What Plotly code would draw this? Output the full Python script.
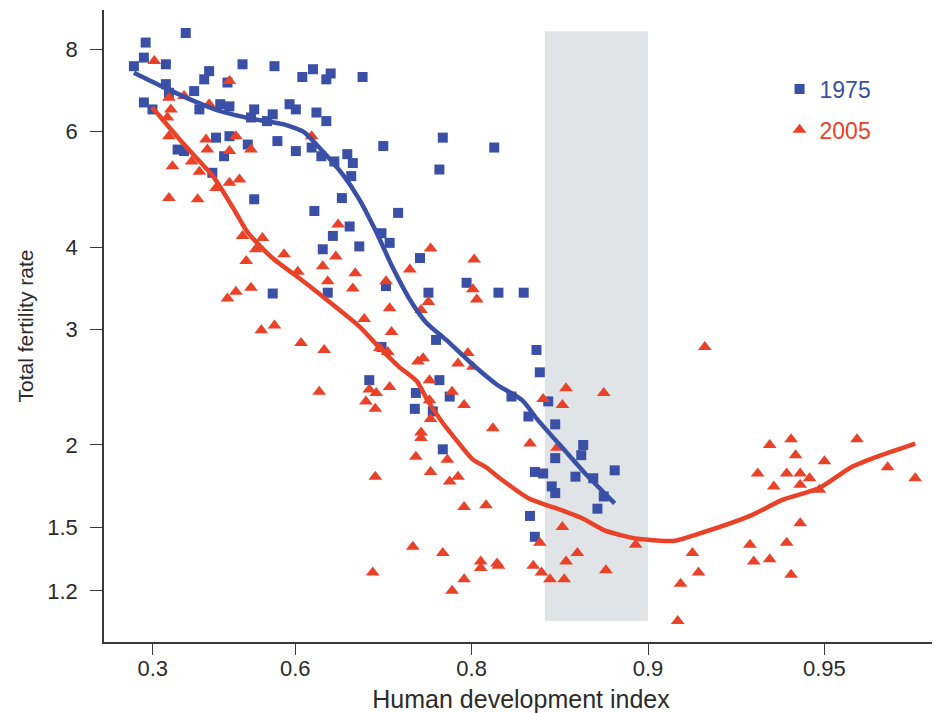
import plotly.graph_objects as go
import math

# ---------------- data ----------------
hdi_1975 = [0.385, 0.280, 0.275, 0.246, 0.335, 0.508, 0.566, 0.611, 0.439, 0.428,
            0.478, 0.335, 0.343, 0.405, 0.275, 0.299, 0.417, 0.463, 0.482, 0.530,
            0.563, 0.591, 0.601, 0.524, 0.553, 0.454, 0.482, 0.518, 0.571, 0.601,
            0.365, 0.381, 0.471, 0.446, 0.530, 0.563,
            0.627, 0.652, 0.646, 0.693, 0.632, 0.646, 0.625, 0.639, 0.674, 0.681,
            0.657, 0.717, 0.776, 0.817, 0.773, 0.679, 0.667, 0.629, 0.733,
            0.677, 0.655, 0.715, 0.724, 0.641, 0.689, 0.755, 0.796, 0.763, 0.820,
            0.837, 0.648, 0.720, 0.770, 0.715, 0.701, 0.773, 0.751, 0.782, 0.750,
            0.767, 0.776,
            0.845, 0.847, 0.829, 0.852, 0.840, 0.856, 0.871, 0.870, 0.856, 0.844,
            0.849, 0.867, 0.876, 0.886, 0.854, 0.856, 0.881, 0.878, 0.841, 0.844]
tfr_1975 = [8.47, 8.19, 7.77, 7.54, 7.59, 7.59, 7.54, 7.26, 7.41, 7.20,
            7.12, 7.08, 6.87, 6.91, 6.64, 6.48, 6.48, 6.60, 6.55, 6.48,
            6.37, 6.60, 6.48, 6.30, 6.22, 5.87, 5.90, 5.73, 5.80, 5.60,
            5.63, 5.60, 5.50, 5.19, 4.73, 3.40,
            7.46, 7.35, 7.20, 7.26, 6.41, 6.22, 5.67, 5.50, 5.54, 5.37,
            5.40, 5.70, 5.87, 5.67, 5.25, 5.13, 4.75, 4.54, 4.51,
            4.30, 4.16, 4.20, 4.06, 3.97, 4.01, 3.85, 3.53, 3.41, 3.41,
            3.41, 3.41, 3.49, 2.89, 2.82, 2.51, 2.51, 2.40, 2.37, 2.27,
            2.25, 1.97,
            2.79, 2.58, 2.37, 2.33, 2.21, 2.15, 2.00, 1.93, 1.91, 1.82,
            1.81, 1.79, 1.78, 1.83, 1.73, 1.69, 1.67, 1.60, 1.56, 1.45]

hdi_2005 = [0.304, 0.482, 0.343, 0.381, 0.439, 0.348, 0.339, 0.343, 0.432, 0.495,
            0.435, 0.482, 0.524, 0.352, 0.399, 0.417, 0.454, 0.482, 0.502, 0.343,
            0.413, 0.508, 0.545, 0.533, 0.582, 0.515, 0.604, 0.524, 0.495, 0.478,
            0.566, 0.543, 0.609, 0.625, 0.662, 0.659, 0.765, 0.802, 0.641, 0.684,
            0.745, 0.648, 0.681, 0.720, 0.801, 0.804, 0.763, 0.724, 0.756, 0.695,
            0.726, 0.643, 0.722, 0.713, 0.758, 0.753, 0.797, 0.789, 0.801, 0.764,
            0.724, 0.636, 0.701, 0.709, 0.784, 0.697, 0.708, 0.764, 0.794, 0.765,
            0.816, 0.756, 0.756, 0.751, 0.780, 0.708, 0.765, 0.782, 0.789, 0.794,
            0.811, 0.748, 0.776, 0.807, 0.807, 0.819, 0.705, 0.794, 0.784, 0.862,
            0.881, 0.849, 0.860, 0.841, 0.857, 0.920, 0.860, 0.847, 0.868, 0.895,
            0.820, 0.843, 0.862, 0.848, 0.853, 0.861, 0.882, 0.916, 0.918, 0.912,
            0.911, 0.943, 0.938, 0.956, 0.944, 0.950, 0.935, 0.942, 0.945, 0.947,
            0.939, 0.945, 0.949, 0.961, 0.965, 0.945, 0.933, 0.942, 0.934, 0.938,
            0.943]
tfr_2005 = [7.68, 7.16, 6.75, 6.79, 6.60, 6.48, 6.30, 5.90, 5.83, 5.90,
            5.63, 5.60, 5.63, 5.31, 5.40, 5.21, 4.92, 5.01, 5.07, 4.75,
            4.73, 4.16, 4.13, 3.97, 3.90, 3.81, 3.67, 3.47, 3.42, 3.34,
            3.04, 2.99, 2.86, 5.90, 4.33, 3.87, 3.98, 3.83, 3.74, 3.65,
            3.70, 3.55, 3.46, 3.55, 3.45, 3.33, 3.30, 3.23, 3.21, 3.11,
            2.97, 2.79, 2.77, 2.81, 2.71, 2.68, 2.76, 2.66, 2.63, 2.51,
            2.45, 2.41, 2.43, 2.40, 2.41, 2.33, 2.27, 2.34, 2.30, 2.19,
            2.12, 2.09, 2.05, 1.92, 1.90, 1.79, 1.82, 1.76, 1.79, 1.61,
            1.62, 1.40, 1.37, 1.33, 1.30, 1.32, 1.28, 1.25, 1.20, 2.44,
            2.40, 2.35, 2.30, 2.01, 1.98, 2.82, 1.50, 1.42, 1.37, 1.41,
            1.31, 1.31, 1.33, 1.28, 1.25, 1.25, 1.29, 1.37, 1.28, 1.23,
            1.08, 2.04, 2.00, 2.04, 1.93, 1.89, 1.81, 1.81, 1.81, 1.78,
            1.73, 1.74, 1.71, 1.85, 1.78, 1.52, 1.41, 1.42, 1.33, 1.34,
            1.27]

trend_hdi_1975 = [0.246, 0.330, 0.405, 0.463, 0.530, 0.582, 0.614, 0.636, 0.668, 0.689,
                  0.709, 0.727, 0.745, 0.761, 0.779, 0.799, 0.819, 0.836, 0.846, 0.860,
                  0.872, 0.886]
trend_tfr_1975 = [7.37, 7.00, 6.67, 6.44, 6.26, 6.15, 5.98, 5.67, 5.16, 4.73,
                  4.22, 3.73, 3.33, 3.07, 2.89, 2.67, 2.47, 2.34, 2.18, 1.98,
                  1.81, 1.63]

trend_hdi_2005 = [0.298, 0.381, 0.450, 0.496, 0.517, 0.561, 0.614, 0.646, 0.689, 0.713,
                  0.734, 0.752, 0.762, 0.776, 0.790, 0.801, 0.811, 0.821, 0.840, 0.860,
                  0.870, 0.882, 0.896, 0.910, 0.917, 0.933, 0.941, 0.949, 0.955, 0.960,
                  0.965]
trend_tfr_2005 = [6.53, 5.73, 5.10, 4.50, 4.22, 3.86, 3.54, 3.33, 3.03, 2.81,
                  2.63, 2.50, 2.34, 2.16, 2.01, 1.90, 1.85, 1.78, 1.66, 1.59,
                  1.55, 1.48, 1.44, 1.43, 1.46, 1.56, 1.65, 1.72, 1.85, 1.93,
                  2.01]

band_hdi = [0.85, 0.90]
band_tfr = [1.08, 8.52]

x_tick_hdi = [0.3, 0.6, 0.8, 0.9, 0.95]
x_tick_text = ["0.3", "0.6", "0.8", "0.9", "0.95"]
y_tick_vals = [1.2, 1.5, 2, 3, 4, 6, 8]
y_tick_text = ["1.2", "1.5", "2", "3", "4", "6", "8"]

x_range_hdi = [0.152, 0.968]
y_range_tfr = [1.003, 9.18]

# ---------------- styling ----------------
BLUE = "#3950a6"
RED = "#ea4129"
BAND = "#e1e4e6"
AXIS = "#3a3a3a"
FONT = "Liberation Sans, Arial, sans-serif"


def gap(values):
    # the HDI axis is a log scale of the shortfall (1 - HDI), reversed
    return [1 - v for v in values]


fig = go.Figure()

fig.add_trace(go.Scatter(
    x=gap(hdi_1975), y=tfr_1975, mode="markers",
    name="<span style='color:%s'>1975</span>" % BLUE,
    legendgroup="a",
    marker=dict(symbol="square", size=10, color=BLUE, line=dict(width=0)),
))
fig.add_trace(go.Scatter(
    x=gap(hdi_2005), y=tfr_2005, mode="markers",
    name="<span style='color:%s'>2005</span>" % RED,
    legendgroup="b",
    marker=dict(symbol="triangle-up", size=12, color=RED, line=dict(width=0)),
))
fig.add_trace(go.Scatter(
    x=gap(trend_hdi_1975), y=trend_tfr_1975, mode="lines", showlegend=False,
    line=dict(color=BLUE, width=4.5, shape="spline", smoothing=0.6),
))
fig.add_trace(go.Scatter(
    x=gap(trend_hdi_2005), y=trend_tfr_2005, mode="lines", showlegend=False,
    line=dict(color=RED, width=4.5, shape="spline", smoothing=0.6),
))

fig.add_shape(
    type="rect", xref="x", yref="y", layer="below",
    x0=1 - band_hdi[0], x1=1 - band_hdi[1], y0=band_tfr[0], y1=band_tfr[1],
    fillcolor=BAND, line=dict(width=0),
)

fig.update_layout(
    width=932, height=705,
    margin=dict(l=96, r=2, t=2, b=71),
    paper_bgcolor="white", plot_bgcolor="white",
    font=dict(family=FONT, color="#2b2b2b"),
    showlegend=True,
    legend=dict(
        x=0.810, y=0.909, xanchor="left", yanchor="top",
        font=dict(size=23, family=FONT),
        traceorder="grouped", tracegroupgap=8,
        bgcolor="rgba(0,0,0,0)",
    ),
    xaxis=dict(
        type="log",
        range=[math.log10(1 - x_range_hdi[0]), math.log10(1 - x_range_hdi[1])],
        tickvals=gap(x_tick_hdi), ticktext=x_tick_text,
        showgrid=False, zeroline=False,
        showline=True, linecolor=AXIS, linewidth=1.5,
        ticks="outside", ticklen=11, tickwidth=1.3, tickcolor=AXIS,
        ticklabelstandoff=-5,
        tickfont=dict(size=22, family=FONT, color="#2b2b2b"),
        title=dict(text="Human development index", font=dict(size=25, family=FONT),
                   standoff=11),
    ),
    yaxis=dict(
        type="log",
        range=[math.log10(y_range_tfr[0]), math.log10(y_range_tfr[1])],
        tickvals=y_tick_vals, ticktext=y_tick_text,
        showgrid=False, zeroline=False,
        showline=True, linecolor=AXIS, linewidth=1.5,
        ticks="outside", ticklen=12, tickwidth=1.3, tickcolor=AXIS,
        ticklabelstandoff=8,
        tickfont=dict(size=22, family=FONT, color="#2b2b2b"),
        title=dict(text="Total fertility rate", font=dict(size=21, family=FONT),
                   standoff=8),
    ),
)

fig.write_html("out.html")
